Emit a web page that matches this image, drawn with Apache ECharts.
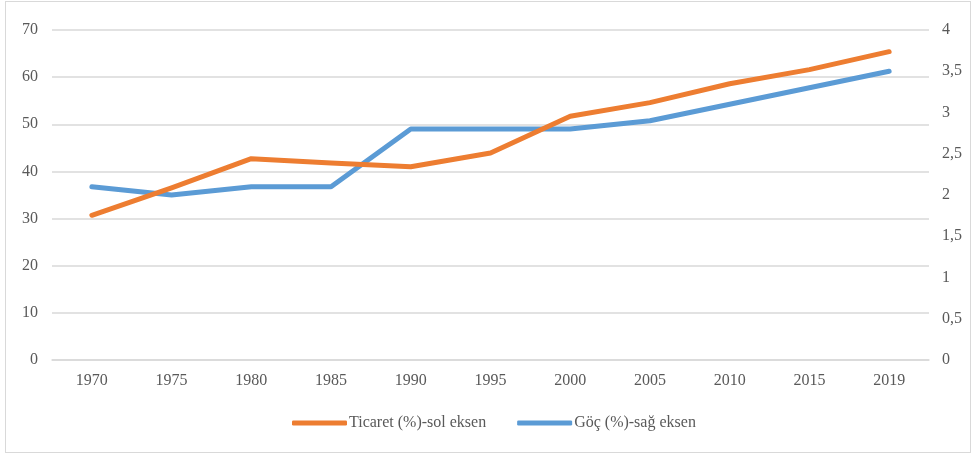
<!DOCTYPE html>
<html>
<head>
<meta charset="utf-8">
<script src="https://cdn.jsdelivr.net/npm/echarts@6/dist/echarts.min.js"></script>
<style>
html,body{margin:0;padding:0;background:#fff;}
#frame{position:absolute;left:5px;top:1px;width:966px;height:452px;border:1.5px solid #d9d9d9;box-sizing:border-box;}
#chart{position:absolute;left:0;top:0;width:978px;height:459px;}
</style>
</head>
<body>
<div id="frame"></div>
<div id="chart"></div>
<script>
const years = ['1970','1975','1980','1985','1990','1995','2000','2005','2010','2015','2019'];
const ticaret = [30.7, 36.5, 42.7, 41.8, 41.0, 43.9, 51.7, 54.6, 58.6, 61.6, 65.4];
const goc = [2.1, 2.0, 2.1, 2.1, 2.8, 2.8, 2.8, 2.9, 3.1, 3.3, 3.5];
const seriesNames = ['Ticaret (%)-sol eksen', 'Göç (%)-sağ eksen'];

const font = 'Liberation Serif, Times New Roman, serif';
const textColor = '#595959';
const fs = 16;
const chart = echarts.init(document.getElementById('chart'), null, {renderer:'canvas'});
chart.setOption({
  animation: false,
  textStyle: {fontFamily: font},
  grid: {left: 52, right: 49, top: 30, bottom: 99, containLabel: false},
  legend: {
    bottom: 23,
    left: 287,
    itemWidth: 55,
    itemHeight: 5,
    itemGap: 31,
    icon: 'roundRect',
    textStyle: {fontFamily: font, fontSize: fs, color: textColor, padding: [0,0,0,-3]},
    data: seriesNames
  },
  xAxis: {
    type: 'category',
    data: years,
    boundaryGap: true,
    axisLine: {lineStyle: {color: '#d9d9d9', width: 1.5}},
    axisTick: {show: false},
    axisLabel: {color: textColor, fontSize: fs, fontFamily: font, margin: 13}
  },
  yAxis: [
    {
      type: 'value', min: 0, max: 70, interval: 10,
      axisLine: {show: false}, axisTick: {show: false},
      axisLabel: {color: textColor, fontSize: fs, fontFamily: font, margin: 14},
      splitLine: {lineStyle: {color: '#d9d9d9', width: 1.5}}
    },
    {
      type: 'value', min: 0, max: 4, interval: 0.5,
      axisLine: {show: false}, axisTick: {show: false},
      axisLabel: {color: textColor, fontSize: fs, fontFamily: font, margin: 13,
        formatter: v => String(v).replace('.', ',')},
      splitLine: {show: false}
    }
  ],
  series: [
    {
      name: seriesNames[0], type: 'line', yAxisIndex: 0, data: ticaret,
      showSymbol: false, symbol: 'none', z: 4,
      itemStyle: {color: '#ED7D31'},
      lineStyle: {color: '#ED7D31', width: 5, cap: 'round', join: 'round'}
    },
    {
      name: seriesNames[1], type: 'line', yAxisIndex: 1, data: goc,
      showSymbol: false, symbol: 'none', z: 3,
      itemStyle: {color: '#5B9BD5'},
      lineStyle: {color: '#5B9BD5', width: 5, cap: 'round', join: 'round'}
    }
  ]
});
</script>
</body>
</html>
